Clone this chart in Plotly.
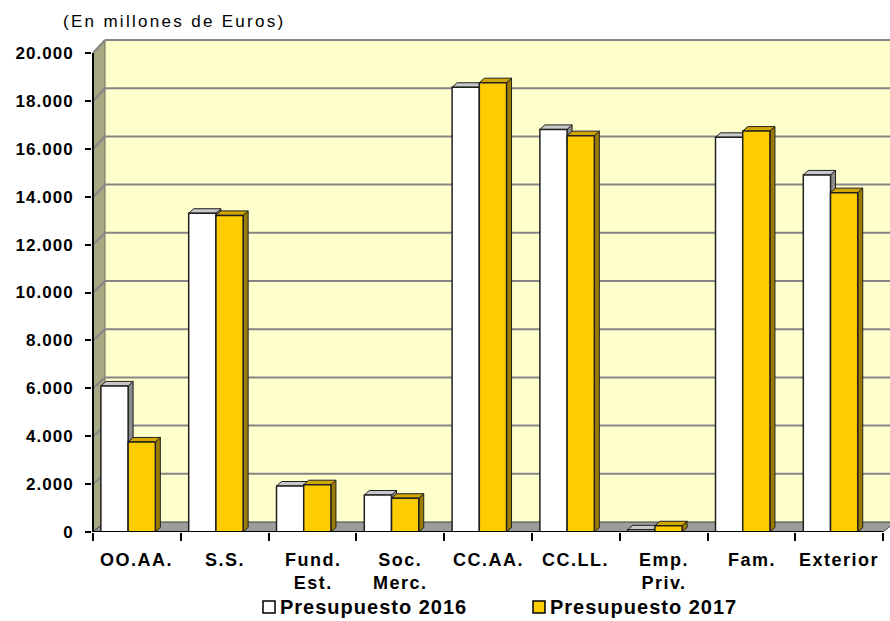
import plotly.graph_objects as go

# Transferencias por subsector (millones de euros)
categories = ["OO.AA.", "S.S.", "Fund.<br>Est.", "Soc.<br>Merc.", "CC.AA.",
              "CC.LL.", "Emp.<br>Priv.", "Fam.", "Exterior"]
valores_2016 = [6100, 13310, 1920, 1545, 18570, 16810, 90, 16480, 14910]
valores_2017 = [3760, 13220, 1975, 1410, 18760, 16550, 260, 16740, 14170]
y_ticks = [0, 2000, 4000, 6000, 8000, 10000, 12000, 14000, 16000, 18000, 20000]
y_tick_labels = [f"{v:,}".replace(",", ".") for v in y_ticks]

FONT = "Arial, Liberation Sans, sans-serif"
W, H = 890, 621
PLOT_L, PLOT_R, PLOT_T, PLOT_B = 92, 890, 36, 532
PX_CAT = 87.8            # pixels per category
PX_Y = 23.95 / 1000      # pixels per unit of value
X0 = -0.5                # front-left corner of the floor (pixel 93)
N = len(categories)

# pseudo-3D depth (Excel style)
WALL_DX = 12 / PX_CAT
BAR_DX = 5 / PX_CAT
BAR_DY = 4.5 / PX_Y


def back_y(v):
    # value on the front plane -> height of the same level on the back wall
    return (10 + v * 0.0241) / PX_Y


def px_x(p):
    return (p - PLOT_L) / (PLOT_R - PLOT_L)


def px_y(p):
    return (PLOT_B - p) / (PLOT_B - PLOT_T)


def poly(pts, fill, line="#202020", lw=1, layer="below"):
    path = "M " + " L ".join(f"{x},{y}" for x, y in pts) + " Z"
    return dict(type="path", path=path, xref="x", yref="y", fillcolor=fill,
                line=dict(color=line, width=lw), layer=layer)


def spaced(txt, sp):
    return f'<span style="letter-spacing:{sp}px">{txt}</span>'


x_max = X0 + (PLOT_R - 93) / PX_CAT
x_min = X0 - 1 / PX_CAT
y_max = (PLOT_B - PLOT_T) / PX_Y
x_end = X0 + N

shapes = []
# back wall, left wall, floor
shapes.append(poly([(X0 + WALL_DX, back_y(0)), (X0 + WALL_DX, back_y(20000)),
                    (x_max + 1, back_y(20000)), (x_max + 1, back_y(0))],
                   "#FFFFCC", line="rgba(0,0,0,0)", lw=0))
shapes.append(poly([(X0, 0), (X0, 20000), (X0 + WALL_DX, back_y(20000)),
                    (X0 + WALL_DX, back_y(0))], "#A8A882", line="#707060", lw=1))
shapes.append(poly([(X0, 0), (x_end, 0), (x_end + WALL_DX, back_y(0)),
                    (X0 + WALL_DX, back_y(0))], "#9C9C9C", line="#404040", lw=1))
# gridlines on the walls
for v in y_ticks[1:]:
    shapes.append(dict(type="line", xref="x", yref="y", layer="below",
                       x0=X0, y0=v, x1=X0 + WALL_DX, y1=back_y(v),
                       line=dict(color="#858585", width=2)))
    shapes.append(dict(type="line", xref="x", yref="y", layer="below",
                       x0=X0 + WALL_DX, y0=back_y(v), x1=x_max + 1, y1=back_y(v),
                       line=dict(color="#858585", width=2)))

# top and side faces of the columns
series = [
    (valores_2016, -0.41, "#FFFFFF", "#C8C8C8", "#8C8C8C", "Presupuesto 2016"),
    (valores_2017, -0.10, "#FFCC00", "#D2A600", "#9C7C00", "Presupuesto 2017"),
]
WIDTH = 0.31
for i in range(N):
    for vals, off, _, top_c, side_c, _ in series:
        v = vals[i]
        L = i + off
        R = L + WIDTH
        shapes.append(poly([(R, 0), (R, v), (R + BAR_DX, v + BAR_DY), (R + BAR_DX, BAR_DY)],
                           side_c))
        shapes.append(poly([(L, v), (R, v), (R + BAR_DX, v + BAR_DY), (L + BAR_DX, v + BAR_DY)],
                           top_c))

# front axis lines
shapes.append(dict(type="line", xref="x", yref="y", layer="above", x0=X0, y0=0,
                   x1=X0, y1=20000, line=dict(color="black", width=2)))
shapes.append(dict(type="line", xref="x", yref="y", layer="above", x0=X0, y0=0,
                   x1=x_end, y1=0, line=dict(color="black", width=2)))

fig = go.Figure()
for vals, off, front_c, _, _, name in series:
    fig.add_trace(go.Bar(
        x=list(range(N)), y=vals, base=0, offset=off, width=WIDTH, name=name,
        marker=dict(color=front_c, line=dict(color="#202020", width=1.5)),
        showlegend=False,
    ))

annotations = []
for i, c in enumerate(categories):
    annotations.append(dict(
        x=i, y=px_y(548), xref="x", yref="paper", xanchor="center", yanchor="top",
        text=spaced(c, 1.5), showarrow=False,
        font=dict(family=FONT, size=18, color="black", weight="bold"),
    ))

# legend drawn by hand
legend_items = [(263, "#FFFFFF", "Presupuesto 2016"), (533, "#FFCC00", "Presupuesto 2017")]
for px0, col, name in legend_items:
    shapes.append(dict(type="rect", xref="paper", yref="paper",
                       x0=px_x(px0), x1=px_x(px0 + 12), y0=px_y(613), y1=px_y(601),
                       fillcolor=col, line=dict(color="black", width=1.5)))
    annotations.append(dict(
        x=px_x(px0 + 15), y=px_y(607), xref="paper", yref="paper",
        xanchor="left", yanchor="middle", text=spaced(name, 1), showarrow=False,
        font=dict(family=FONT, size=20, color="black", weight="bold"),
    ))

fig.update_layout(
    width=W, height=H,
    margin=dict(l=PLOT_L, r=W - PLOT_R, t=PLOT_T, b=H - PLOT_B),
    paper_bgcolor="white", plot_bgcolor="white",
    barmode="overlay",
    title=dict(text=spaced("(En millones de Euros)", 2.3), x=63 / W, xanchor="left",
               xref="container", y=1 - 21 / H, yanchor="middle",
               font=dict(family=FONT, size=17, color="black")),
    xaxis=dict(range=[x_min, x_max], tickvals=[X0 + k for k in range(N + 1)],
               showticklabels=False, ticks="outside", ticklen=8, tickwidth=2,
               tickcolor="black", showgrid=False, zeroline=False, showline=False),
    yaxis=dict(range=[0, y_max], tickvals=y_ticks,
               ticktext=[spaced(t, 1) for t in y_tick_labels],
               ticks="outside", ticklen=6, tickwidth=2, tickcolor="black",
               ticklabelstandoff=8,
               tickfont=dict(family=FONT, size=17, color="black", weight="bold"),
               showgrid=False, zeroline=False, showline=False),
    shapes=shapes,
    annotations=annotations,
    showlegend=False,
)

fig.write_html(
    "out.html",
    config={"displayModeBar": False},
    post_script="document.body.style.margin='0px';document.body.style.overflow='hidden';",
)
